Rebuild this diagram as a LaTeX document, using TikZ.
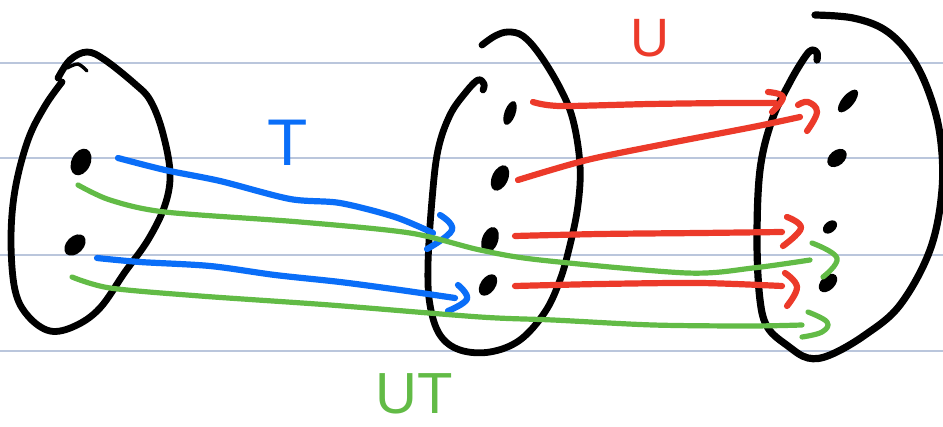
\documentclass[tikz,border=0pt]{standalone}
\usepackage{fontspec}
\setmainfont{Liberation Sans}
\usetikzlibrary{shapes.geometric}
\definecolor{penblue}{RGB}{10,110,248}
\definecolor{penred}{RGB}{236,58,42}
\definecolor{pengreen}{RGB}{98,187,70}
\definecolor{rulecol}{RGB}{186,198,220}
\begin{document}
\begin{tikzpicture}[x=1pt,y=-1pt,
  blob/.style={line width=6.8pt, line cap=round, line join=round},
  dot/.style={ellipse, fill=black, inner sep=0pt},
  mapline/.style={line width=6.2pt, line cap=round, line join=round},
  greenline/.style={line width=5.2pt, line cap=round, line join=round},
  tiphead/.style={line width=6.2pt, line cap=round, line join=round},
  ruleline/.style={draw=rulecol, line width=1.6pt},
  lbl/.style={inner sep=0pt}]
\fill[white] (0,0) rectangle (943,427);
\useasboundingbox (0,0) rectangle (943,427);
% ruled paper lines
\draw[ruleline] (0,63) -- (943,63);
\draw[ruleline] (0,158) -- (943,158);
\draw[ruleline] (0,255) -- (943,255);
\draw[ruleline] (0,351) -- (943,351);
% left set
\draw[blob] plot[smooth, tension=0.6] coordinates {(58,78) (70,60) (87,52) (105,60) (135,84) (150,100) (162,130) (170,172) (165,205) (148,240) (125,272) (100,308) (75,326) (50,331) (28,316) (15,290) (11,240) (15,190) (28,140) (45,106) (62,82)};
\draw[blob, line width=3.4pt] plot[smooth] coordinates {(67,68) (78,64) (87,71)};
% middle set
\draw[blob] plot[smooth, tension=0.6] coordinates {(482,45) (495,36) (508,32) (523,36) (540,55) (560,88) (573,120) (580,165) (578,205) (570,245) (560,280) (545,312) (520,340) (490,352) (460,350) (440,335) (430,305) (428,265) (432,200) (438,150) (450,115) (466,92) (478,80) (484,84) (483,90)};
% right set
\draw[blob, line width=7.2pt] plot[smooth, tension=0.6] coordinates {(815,15) (853,18) (885,30) (910,55) (928,90) (940,135) (942,190) (930,250) (900,305) (865,335) (830,355) (808,358) (788,346) (768,328) (760,300) (757,240) (760,170) (772,120) (790,82) (805,57) (812,50) (817,53) (817,60)};
% elements
\node[dot, minimum width=28pt, minimum height=19pt, rotate=65] (a1) at (81,162) {};
\node[dot, minimum width=25pt, minimum height=17pt, rotate=45] (a2) at (75,245) {};
\node[dot, minimum width=25pt, minimum height=11pt, rotate=70] (b1) at (510,113) {};
\node[dot, minimum width=27pt, minimum height=16pt, rotate=65] (b2) at (500,178) {};
\node[dot, minimum width=27pt, minimum height=16pt, rotate=70] (b3) at (490,240) {};
\node[dot, minimum width=24pt, minimum height=15pt, rotate=55] (b4) at (488,285) {};
\node[dot, minimum width=28pt, minimum height=12pt, rotate=50] (c1) at (848,101) {};
\node[dot, minimum width=22pt, minimum height=15pt, rotate=40] (c2) at (837,158) {};
\node[dot, minimum width=16pt, minimum height=11pt, rotate=40] (c3) at (830,227) {};
\node[dot, minimum width=22pt, minimum height=14pt, rotate=45] (c4) at (828,283) {};
% connector ends
\coordinate (t1s) at (118,158);  \coordinate (t1e) at (433,233);
\coordinate (t2s) at (97,258);   \coordinate (t2e) at (455,298);
\coordinate (g1s) at (78,185);   \coordinate (g1e) at (810,260);
\coordinate (g2s) at (72,277);   \coordinate (g2e) at (802,325);
\coordinate (u1s) at (533,102);  \coordinate (u1e) at (775,103);
\coordinate (u2s) at (518,180);  \coordinate (u2e) at (800,117);
\coordinate (u3s) at (515,236);  \coordinate (u3e) at (782,232);
\coordinate (u4s) at (515,286);  \coordinate (u4e) at (782,286);
% T
\draw[mapline, penblue] plot[smooth, tension=0.5] coordinates {(t1s) (165,170) (220,181) (290,199) (340,203) (395,217) (t1e)};
\draw[tiphead, penblue] plot[smooth, tension=0.7] coordinates {(440,215) (452,230) (427,249)};
\draw[mapline, penblue] plot[smooth, tension=0.5] coordinates {(t2s) (140,262) (210,266) (275,275) (340,282) (400,290) (t2e)};
\draw[tiphead, penblue] plot[smooth, tension=0.7] coordinates {(458,285) (467,299) (448,311)};
% UT
\draw[greenline, pengreen] plot[smooth, tension=0.5] coordinates {(g1s) (110,200) (165,212) (300,222) (410,233) (480,250) (540,260) (687,273) (753,268) (g1e)};
\draw[greenline, pengreen] plot[smooth, tension=0.7] coordinates {(812,243) (837,258) (823,277)};
\draw[greenline, pengreen] plot[smooth, tension=0.5] coordinates {(g2s) (110,288) (200,296) (330,305) (480,317) (553,320) (653,325) (750,326) (g2e)};
\draw[greenline, pengreen] plot[smooth, tension=0.7] coordinates {(808,312) (827,322) (822,332) (802,337)};
% U
\draw[mapline, penred] plot[smooth, tension=0.5] coordinates {(u1s) (560,106) (650,104) (730,103) (u1e)};
\draw[tiphead, penred] plot[smooth, tension=0.7] coordinates {(768,92) (783,97) (772,112)};
\draw[mapline, penred] plot[smooth, tension=0.5] coordinates {(u2s) (587,160) (670,143) (753,127) (u2e)};
\draw[tiphead, penred] plot[smooth, tension=0.7] coordinates {(798,105) (808,102) (817,112) (807,131)};
\draw[mapline, penred] plot[smooth, tension=0.5] coordinates {(u3s) (600,234) (700,233) (u3e)};
\draw[tiphead, penred] plot[smooth, tension=0.7] coordinates {(787,217) (801,228) (783,246)};
\draw[mapline, penred] plot[smooth, tension=0.5] coordinates {(u4s) (600,284) (700,283) (u4e)};
\draw[tiphead, penred] plot[smooth, tension=0.7] coordinates {(785,273) (797,287) (787,306)};
% labels
\node[lbl, text=penblue, font=\fontsize{66}{66}\selectfont] (tlabel) at (288,143) {T};
\node[lbl, text=penred, font=\fontsize{54}{54}\selectfont] (ulabel) at (650,38) {U};
\node[lbl, text=pengreen, font=\fontsize{58}{58}\selectfont] (utlabel) at (414,394) {UT};
\end{tikzpicture}
\end{document}
